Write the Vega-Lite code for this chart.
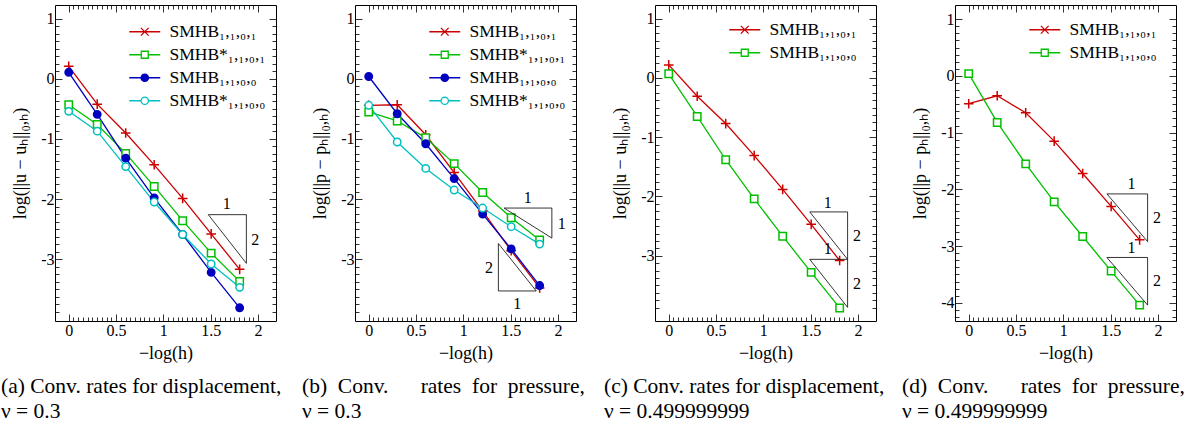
{
  "$schema": "https://vega.github.io/schema/vega-lite/v6.json",
  "padding": {"left": 0, "top": 4, "right": 0, "bottom": 0},
  "config": {
    "font": "Liberation Serif",
    "view": {"stroke": "black", "strokeWidth": 1},
    "axis": {"grid": false, "domain": false, "tickColor": "black", "labelColor": "black", "titleColor": "black", "labelFont": "Liberation Serif", "labelFontSize": 16, "titleFont": "Liberation Serif", "titleFontSize": 18, "titleFontWeight": "normal", "tickWidth": 0.8},
    "legend": {"labelFont": "Liberation Serif", "labelFontSize": 17.5, "labelColor": "black", "labelLimit": 0, "padding": 0, "symbolSize": 240, "symbolStrokeWidth": 1.3, "labelOffset": 16, "rowPadding": 4},
    "title": {"font": "Liberation Serif", "fontSize": 21.5, "fontWeight": "normal", "color": "black", "lineHeight": 25},
    "text": {"font": "Liberation Serif"}
  },
  "datasets": {
    "a": [
      {"x": 0, "y": 0.21, "s": "SMHB₁,₁,₀,₁"}, {"x": 0.301, "y": -0.42, "s": "SMHB₁,₁,₀,₁"}, {"x": 0.602, "y": -0.9, "s": "SMHB₁,₁,₀,₁"}, {"x": 0.903, "y": -1.43, "s": "SMHB₁,₁,₀,₁"}, {"x": 1.204, "y": -1.99, "s": "SMHB₁,₁,₀,₁"}, {"x": 1.505, "y": -2.58, "s": "SMHB₁,₁,₀,₁"}, {"x": 1.806, "y": -3.17, "s": "SMHB₁,₁,₀,₁"},
      {"x": 0, "y": -0.43, "s": "SMHB*₁,₁,₀,₁"}, {"x": 0.301, "y": -0.76, "s": "SMHB*₁,₁,₀,₁"}, {"x": 0.602, "y": -1.24, "s": "SMHB*₁,₁,₀,₁"}, {"x": 0.903, "y": -1.79, "s": "SMHB*₁,₁,₀,₁"}, {"x": 1.204, "y": -2.36, "s": "SMHB*₁,₁,₀,₁"}, {"x": 1.505, "y": -2.9, "s": "SMHB*₁,₁,₀,₁"}, {"x": 1.806, "y": -3.37, "s": "SMHB*₁,₁,₀,₁"},
      {"x": 0, "y": 0.11, "s": "SMHB₁,₁,₀,₀"}, {"x": 0.301, "y": -0.59, "s": "SMHB₁,₁,₀,₀"}, {"x": 0.602, "y": -1.32, "s": "SMHB₁,₁,₀,₀"}, {"x": 0.903, "y": -1.98, "s": "SMHB₁,₁,₀,₀"}, {"x": 1.204, "y": -2.59, "s": "SMHB₁,₁,₀,₀"}, {"x": 1.505, "y": -3.22, "s": "SMHB₁,₁,₀,₀"}, {"x": 1.806, "y": -3.81, "s": "SMHB₁,₁,₀,₀"},
      {"x": 0, "y": -0.54, "s": "SMHB*₁,₁,₀,₀"}, {"x": 0.301, "y": -0.87, "s": "SMHB*₁,₁,₀,₀"}, {"x": 0.602, "y": -1.46, "s": "SMHB*₁,₁,₀,₀"}, {"x": 0.903, "y": -2.05, "s": "SMHB*₁,₁,₀,₀"}, {"x": 1.204, "y": -2.59, "s": "SMHB*₁,₁,₀,₀"}, {"x": 1.505, "y": -3.08, "s": "SMHB*₁,₁,₀,₀"}, {"x": 1.806, "y": -3.47, "s": "SMHB*₁,₁,₀,₀"}
    ],
    "b": [
      {"x": 0, "y": -0.44, "s": "SMHB₁,₁,₀,₁"}, {"x": 0.301, "y": -0.43, "s": "SMHB₁,₁,₀,₁"}, {"x": 0.602, "y": -0.93, "s": "SMHB₁,₁,₀,₁"}, {"x": 0.903, "y": -1.56, "s": "SMHB₁,₁,₀,₁"}, {"x": 1.204, "y": -2.2, "s": "SMHB₁,₁,₀,₁"}, {"x": 1.505, "y": -2.86, "s": "SMHB₁,₁,₀,₁"}, {"x": 1.806, "y": -3.48, "s": "SMHB₁,₁,₀,₁"},
      {"x": 0, "y": -0.55, "s": "SMHB*₁,₁,₀,₁"}, {"x": 0.301, "y": -0.7, "s": "SMHB*₁,₁,₀,₁"}, {"x": 0.602, "y": -0.98, "s": "SMHB*₁,₁,₀,₁"}, {"x": 0.903, "y": -1.41, "s": "SMHB*₁,₁,₀,₁"}, {"x": 1.204, "y": -1.89, "s": "SMHB*₁,₁,₀,₁"}, {"x": 1.505, "y": -2.31, "s": "SMHB*₁,₁,₀,₁"}, {"x": 1.806, "y": -2.68, "s": "SMHB*₁,₁,₀,₁"},
      {"x": 0, "y": 0.04, "s": "SMHB₁,₁,₀,₀"}, {"x": 0.301, "y": -0.58, "s": "SMHB₁,₁,₀,₀"}, {"x": 0.602, "y": -1.08, "s": "SMHB₁,₁,₀,₀"}, {"x": 0.903, "y": -1.66, "s": "SMHB₁,₁,₀,₀"}, {"x": 1.204, "y": -2.25, "s": "SMHB₁,₁,₀,₀"}, {"x": 1.505, "y": -2.83, "s": "SMHB₁,₁,₀,₀"}, {"x": 1.806, "y": -3.44, "s": "SMHB₁,₁,₀,₀"},
      {"x": 0, "y": -0.44, "s": "SMHB*₁,₁,₀,₀"}, {"x": 0.301, "y": -1.05, "s": "SMHB*₁,₁,₀,₀"}, {"x": 0.602, "y": -1.49, "s": "SMHB*₁,₁,₀,₀"}, {"x": 0.903, "y": -1.85, "s": "SMHB*₁,₁,₀,₀"}, {"x": 1.204, "y": -2.15, "s": "SMHB*₁,₁,₀,₀"}, {"x": 1.505, "y": -2.46, "s": "SMHB*₁,₁,₀,₀"}, {"x": 1.806, "y": -2.75, "s": "SMHB*₁,₁,₀,₀"}
    ],
    "c": [
      {"x": 0, "y": 0.22, "s": "SMHB₁,₁,₀,₁"}, {"x": 0.301, "y": -0.31, "s": "SMHB₁,₁,₀,₁"}, {"x": 0.602, "y": -0.77, "s": "SMHB₁,₁,₀,₁"}, {"x": 0.903, "y": -1.31, "s": "SMHB₁,₁,₀,₁"}, {"x": 1.204, "y": -1.88, "s": "SMHB₁,₁,₀,₁"}, {"x": 1.505, "y": -2.47, "s": "SMHB₁,₁,₀,₁"}, {"x": 1.806, "y": -3.08, "s": "SMHB₁,₁,₀,₁"},
      {"x": 0, "y": 0.07, "s": "SMHB₁,₁,₀,₀"}, {"x": 0.301, "y": -0.65, "s": "SMHB₁,₁,₀,₀"}, {"x": 0.602, "y": -1.38, "s": "SMHB₁,₁,₀,₀"}, {"x": 0.903, "y": -2.04, "s": "SMHB₁,₁,₀,₀"}, {"x": 1.204, "y": -2.67, "s": "SMHB₁,₁,₀,₀"}, {"x": 1.505, "y": -3.28, "s": "SMHB₁,₁,₀,₀"}, {"x": 1.806, "y": -3.88, "s": "SMHB₁,₁,₀,₀"}
    ],
    "d": [
      {"x": 0, "y": -0.49, "s": "SMHB₁,₁,₀,₁"}, {"x": 0.301, "y": -0.35, "s": "SMHB₁,₁,₀,₁"}, {"x": 0.602, "y": -0.65, "s": "SMHB₁,₁,₀,₁"}, {"x": 0.903, "y": -1.15, "s": "SMHB₁,₁,₀,₁"}, {"x": 1.204, "y": -1.72, "s": "SMHB₁,₁,₀,₁"}, {"x": 1.505, "y": -2.3, "s": "SMHB₁,₁,₀,₁"}, {"x": 1.806, "y": -2.89, "s": "SMHB₁,₁,₀,₁"},
      {"x": 0, "y": 0.04, "s": "SMHB₁,₁,₀,₀"}, {"x": 0.301, "y": -0.82, "s": "SMHB₁,₁,₀,₀"}, {"x": 0.602, "y": -1.55, "s": "SMHB₁,₁,₀,₀"}, {"x": 0.903, "y": -2.22, "s": "SMHB₁,₁,₀,₀"}, {"x": 1.204, "y": -2.83, "s": "SMHB₁,₁,₀,₀"}, {"x": 1.505, "y": -3.44, "s": "SMHB₁,₁,₀,₀"}, {"x": 1.806, "y": -4.04, "s": "SMHB₁,₁,₀,₀"}
    ],
    "ta": [
      {"t": 1, "o": 1, "x": 1.475, "y": -2.26}, {"t": 1, "o": 2, "x": 1.877, "y": -2.26}, {"t": 1, "o": 3, "x": 1.877, "y": -3.07}, {"t": 1, "o": 4, "x": 1.475, "y": -2.26}
    ],
    "tb": [
      {"t": 1, "o": 1, "x": 1.43, "y": -2.15}, {"t": 1, "o": 2, "x": 1.935, "y": -2.15}, {"t": 1, "o": 3, "x": 1.935, "y": -2.65}, {"t": 1, "o": 4, "x": 1.43, "y": -2.15},
      {"t": 2, "o": 1, "x": 1.37, "y": -2.74}, {"t": 2, "o": 2, "x": 1.37, "y": -3.53}, {"t": 2, "o": 3, "x": 1.77, "y": -3.53}, {"t": 2, "o": 4, "x": 1.37, "y": -2.74}
    ],
    "tc": [
      {"t": 1, "o": 1, "x": 1.49, "y": -2.26}, {"t": 1, "o": 2, "x": 1.89, "y": -2.26}, {"t": 1, "o": 3, "x": 1.89, "y": -3.06}, {"t": 1, "o": 4, "x": 1.49, "y": -2.26},
      {"t": 2, "o": 1, "x": 1.49, "y": -3.06}, {"t": 2, "o": 2, "x": 1.89, "y": -3.06}, {"t": 2, "o": 3, "x": 1.89, "y": -3.87}, {"t": 2, "o": 4, "x": 1.49, "y": -3.06}
    ],
    "td": [
      {"t": 1, "o": 1, "x": 1.46, "y": -2.08}, {"t": 1, "o": 2, "x": 1.89, "y": -2.08}, {"t": 1, "o": 3, "x": 1.89, "y": -2.92}, {"t": 1, "o": 4, "x": 1.46, "y": -2.08},
      {"t": 2, "o": 1, "x": 1.46, "y": -3.2}, {"t": 2, "o": 2, "x": 1.89, "y": -3.2}, {"t": 2, "o": 3, "x": 1.89, "y": -4.04}, {"t": 2, "o": 4, "x": 1.46, "y": -3.2}
    ],
    "la": [{"x": 1.67, "y": -2.09, "txt": "1"}, {"x": 1.97, "y": -2.69, "txt": "2"}],
    "lb": [{"x": 1.68, "y": -1.98, "txt": "1"}, {"x": 2.04, "y": -2.41, "txt": "1"}, {"x": 1.27, "y": -3.15, "txt": "2"}, {"x": 1.57, "y": -3.74, "txt": "1"}],
    "lc": [{"x": 1.68, "y": -2.11, "txt": "1"}, {"x": 1.99, "y": -2.67, "txt": "2"}, {"x": 1.68, "y": -2.89, "txt": "1"}, {"x": 1.99, "y": -3.48, "txt": "2"}],
    "ld": [{"x": 1.72, "y": -1.91, "txt": "1"}, {"x": 1.99, "y": -2.51, "txt": "2"}, {"x": 1.72, "y": -3.04, "txt": "1"}, {"x": 1.99, "y": -3.61, "txt": "2"}]
  },
  "hconcat": [
    {
      "width": 221, "height": 316,
      "title": {"text": ["(a) Conv. rates for displacement,", "ν = 0.3"], "orient": "bottom", "anchor": "start", "frame": "group", "dx": -54, "offset": 14},
      "layer": [
        {
          "data": {"name": "a"},
          "mark": {"type": "line", "strokeWidth": 1.3},
          "encoding": {
            "x": {"field": "x", "type": "quantitative", "scale": {"domain": [-0.145, 2.19], "nice": false, "zero": false}, "axis": {"orient": "bottom", "values": [0, 0.5, 1, 1.5, 2], "tickSize": -7, "labelExpr": "'' + datum.value", "labelPadding": 8, "title": "−log(h)", "titlePadding": 6}},
            "y": {"field": "y", "type": "quantitative", "scale": {"domain": [-4.03, 1.23], "nice": false, "zero": false}, "axis": {"orient": "left", "values": [-3, -2, -1, 0, 1], "tickSize": -7, "labelExpr": "'' + datum.value", "labelPadding": 8, "title": "log(||u − uₕ||₀,ₕ)", "titlePadding": 11}},
            "color": {"field": "s", "type": "nominal", "scale": {"domain": ["SMHB₁,₁,₀,₁", "SMHB*₁,₁,₀,₁", "SMHB₁,₁,₀,₀", "SMHB*₁,₁,₀,₀"], "range": ["#cc0000", "#00c000", "#0000c0", "#00c0c0"]},
              "legend": {"title": null, "orient": "none", "legendX": 81, "legendY": 18,
                "encode": {"symbols": {"update": {
                  "shape": {"signal": "['M-2,0H2M-0.5,-0.5L0.5,0.5M-0.5,0.5L0.5,-0.5','M-2,0H-0.45M0.45,0H2M-0.45,-0.45H0.45V0.45H-0.45Z','M-2,0H2M0.48,0A0.48,0.48 0 1,1 -0.48,0A0.48,0.48 0 1,1 0.48,0Z','M-2,0H-0.48M0.48,0H2M0.48,0A0.48,0.48 0 1,1 -0.48,0A0.48,0.48 0 1,1 0.48,0Z'][indexof(['SMHB₁,₁,₀,₁','SMHB*₁,₁,₀,₁','SMHB₁,₁,₀,₀','SMHB*₁,₁,₀,₀'], datum.value)]"},
                  "fill": {"signal": "datum.value === 'SMHB₁,₁,₀,₀' ? '#0000c0' : 'transparent'"},
                  "stroke": {"signal": "['#cc0000','#00c000','#0000c0','#00c0c0'][indexof(['SMHB₁,₁,₀,₁','SMHB*₁,₁,₀,₁','SMHB₁,₁,₀,₀','SMHB*₁,₁,₀,₀'], datum.value)]"}
                }}}}}
          }
        },
        {
          "data": {"name": "a"}, "transform": [{"filter": {"field": "s", "equal": "SMHB₁,₁,₀,₁"}}],
          "mark": {"type": "point", "shape": "M-1.3,0H1.3M0,-1.3V1.3", "stroke": "#cc0000", "filled": false, "opacity": 1, "strokeWidth": 1.5, "size": 55},
          "encoding": {
            "x": {"field": "x", "type": "quantitative", "axis": {"orient": "bottom", "values": [0.05,0.1,0.15,0.2,0.25,0.3,0.35,0.4,0.45,0.55,0.6,0.65,0.7,0.75,0.8,0.85,0.9,0.95,1.05,1.1,1.15,1.2,1.25,1.3,1.35,1.4,1.45,1.55,1.6,1.65,1.7,1.75,1.8,1.85,1.9,1.95], "tickSize": -4, "labels": false, "title": null}},
            "y": {"field": "y", "type": "quantitative", "axis": {"orient": "left", "values": [-3.875,-3.75,-3.625,-3.5,-3.375,-3.25,-3.125,-2.875,-2.75,-2.625,-2.5,-2.375,-2.25,-2.125,-1.875,-1.75,-1.625,-1.5,-1.375,-1.25,-1.125,-0.875,-0.75,-0.625,-0.5,-0.375,-0.25,-0.125,0.125,0.25,0.375,0.5,0.625,0.75,0.875], "tickSize": -4, "labels": false, "title": null}}
          }
        },
        {
          "data": {"name": "a"}, "transform": [{"filter": {"field": "s", "equal": "SMHB*₁,₁,₀,₁"}}],
          "mark": {"type": "point", "shape": "square", "stroke": "#00c000", "fill": "white", "opacity": 1, "strokeWidth": 1.5, "size": 55},
          "encoding": {"x": {"field": "x", "type": "quantitative", "axis": null}, "y": {"field": "y", "type": "quantitative", "axis": null}}
        },
        {
          "data": {"name": "a"}, "transform": [{"filter": {"field": "s", "equal": "SMHB₁,₁,₀,₀"}}],
          "mark": {"type": "point", "shape": "circle", "stroke": "#0000c0", "fill": "#0000c0", "opacity": 1, "strokeWidth": 1.5, "size": 55},
          "encoding": {"x": {"field": "x", "type": "quantitative", "axis": null}, "y": {"field": "y", "type": "quantitative", "axis": null}}
        },
        {
          "data": {"name": "a"}, "transform": [{"filter": {"field": "s", "equal": "SMHB*₁,₁,₀,₀"}}],
          "mark": {"type": "point", "shape": "circle", "stroke": "#00c0c0", "fill": "white", "opacity": 1, "strokeWidth": 1.5, "size": 55},
          "encoding": {"x": {"field": "x", "type": "quantitative", "axis": null}, "y": {"field": "y", "type": "quantitative", "axis": null}}
        },
        {
          "data": {"name": "ta"},
          "mark": {"type": "line", "color": "black", "strokeWidth": 0.8},
          "encoding": {
            "x": {"field": "x", "type": "quantitative", "axis": {"orient": "top", "values": [0, 0.5, 1, 1.5, 2], "tickSize": -7, "labels": false, "title": null}},
            "y": {"field": "y", "type": "quantitative", "axis": {"orient": "right", "values": [-3, -2, -1, 0, 1], "tickSize": -7, "labels": false, "title": null}},
            "detail": {"field": "t", "type": "nominal"},
            "order": {"field": "o", "type": "quantitative"}
          }
        },
        {
          "data": {"name": "la"},
          "mark": {"type": "text", "fontSize": 16, "color": "black"},
          "encoding": {
            "x": {"field": "x", "type": "quantitative", "axis": {"orient": "top", "values": [0.05,0.1,0.15,0.2,0.25,0.3,0.35,0.4,0.45,0.55,0.6,0.65,0.7,0.75,0.8,0.85,0.9,0.95,1.05,1.1,1.15,1.2,1.25,1.3,1.35,1.4,1.45,1.55,1.6,1.65,1.7,1.75,1.8,1.85,1.9,1.95], "tickSize": -4, "labels": false, "title": null}},
            "y": {"field": "y", "type": "quantitative", "axis": {"orient": "right", "values": [-3.875,-3.75,-3.625,-3.5,-3.375,-3.25,-3.125,-2.875,-2.75,-2.625,-2.5,-2.375,-2.25,-2.125,-1.875,-1.75,-1.625,-1.5,-1.375,-1.25,-1.125,-0.875,-0.75,-0.625,-0.5,-0.375,-0.25,-0.125,0.125,0.25,0.375,0.5,0.625,0.75,0.875], "tickSize": -4, "labels": false, "title": null}},
            "text": {"field": "txt", "type": "nominal"}
          }
        }
      ],
      "resolve": {"axis": {"x": "independent", "y": "independent"}}
    },
    {
      "width": 221, "height": 316,
      "title": {"text": ["(b)\u00a0\u00a0Conv.\u00a0\u00a0\u00a0\u00a0\u00a0\u00a0rates\u00a0\u00a0for\u00a0\u00a0pressure,", "ν = 0.3"], "orient": "bottom", "anchor": "start", "frame": "group", "dx": -53, "offset": 14},
      "layer": [
        {
          "data": {"name": "b"},
          "mark": {"type": "line", "strokeWidth": 1.3},
          "encoding": {
            "x": {"field": "x", "type": "quantitative", "scale": {"domain": [-0.145, 2.19], "nice": false, "zero": false}, "axis": {"orient": "bottom", "values": [0, 0.5, 1, 1.5, 2], "tickSize": -7, "labelExpr": "'' + datum.value", "labelPadding": 8, "title": "−log(h)", "titlePadding": 6}},
            "y": {"field": "y", "type": "quantitative", "scale": {"domain": [-4.03, 1.23], "nice": false, "zero": false}, "axis": {"orient": "left", "values": [-3, -2, -1, 0, 1], "tickSize": -7, "labelExpr": "'' + datum.value", "labelPadding": 8, "title": "log(||p − pₕ||₀,ₕ)", "titlePadding": 11}},
            "color": {"field": "s", "type": "nominal", "scale": {"domain": ["SMHB₁,₁,₀,₁", "SMHB*₁,₁,₀,₁", "SMHB₁,₁,₀,₀", "SMHB*₁,₁,₀,₀"], "range": ["#cc0000", "#00c000", "#0000c0", "#00c0c0"]},
              "legend": {"title": null, "orient": "none", "legendX": 81, "legendY": 18,
                "encode": {"symbols": {"update": {
                  "shape": {"signal": "['M-2,0H2M-0.5,-0.5L0.5,0.5M-0.5,0.5L0.5,-0.5','M-2,0H-0.45M0.45,0H2M-0.45,-0.45H0.45V0.45H-0.45Z','M-2,0H2M0.48,0A0.48,0.48 0 1,1 -0.48,0A0.48,0.48 0 1,1 0.48,0Z','M-2,0H-0.48M0.48,0H2M0.48,0A0.48,0.48 0 1,1 -0.48,0A0.48,0.48 0 1,1 0.48,0Z'][indexof(['SMHB₁,₁,₀,₁','SMHB*₁,₁,₀,₁','SMHB₁,₁,₀,₀','SMHB*₁,₁,₀,₀'], datum.value)]"},
                  "fill": {"signal": "datum.value === 'SMHB₁,₁,₀,₀' ? '#0000c0' : 'transparent'"},
                  "stroke": {"signal": "['#cc0000','#00c000','#0000c0','#00c0c0'][indexof(['SMHB₁,₁,₀,₁','SMHB*₁,₁,₀,₁','SMHB₁,₁,₀,₀','SMHB*₁,₁,₀,₀'], datum.value)]"}
                }}}}}
          }
        },
        {
          "data": {"name": "b"}, "transform": [{"filter": {"field": "s", "equal": "SMHB₁,₁,₀,₁"}}],
          "mark": {"type": "point", "shape": "M-1.3,0H1.3M0,-1.3V1.3", "stroke": "#cc0000", "filled": false, "opacity": 1, "strokeWidth": 1.5, "size": 55},
          "encoding": {
            "x": {"field": "x", "type": "quantitative", "axis": {"orient": "bottom", "values": [0.05,0.1,0.15,0.2,0.25,0.3,0.35,0.4,0.45,0.55,0.6,0.65,0.7,0.75,0.8,0.85,0.9,0.95,1.05,1.1,1.15,1.2,1.25,1.3,1.35,1.4,1.45,1.55,1.6,1.65,1.7,1.75,1.8,1.85,1.9,1.95], "tickSize": -4, "labels": false, "title": null}},
            "y": {"field": "y", "type": "quantitative", "axis": {"orient": "left", "values": [-3.875,-3.75,-3.625,-3.5,-3.375,-3.25,-3.125,-2.875,-2.75,-2.625,-2.5,-2.375,-2.25,-2.125,-1.875,-1.75,-1.625,-1.5,-1.375,-1.25,-1.125,-0.875,-0.75,-0.625,-0.5,-0.375,-0.25,-0.125,0.125,0.25,0.375,0.5,0.625,0.75,0.875], "tickSize": -4, "labels": false, "title": null}}
          }
        },
        {
          "data": {"name": "b"}, "transform": [{"filter": {"field": "s", "equal": "SMHB*₁,₁,₀,₁"}}],
          "mark": {"type": "point", "shape": "square", "stroke": "#00c000", "fill": "white", "opacity": 1, "strokeWidth": 1.5, "size": 55},
          "encoding": {"x": {"field": "x", "type": "quantitative", "axis": null}, "y": {"field": "y", "type": "quantitative", "axis": null}}
        },
        {
          "data": {"name": "b"}, "transform": [{"filter": {"field": "s", "equal": "SMHB₁,₁,₀,₀"}}],
          "mark": {"type": "point", "shape": "circle", "stroke": "#0000c0", "fill": "#0000c0", "opacity": 1, "strokeWidth": 1.5, "size": 55},
          "encoding": {"x": {"field": "x", "type": "quantitative", "axis": null}, "y": {"field": "y", "type": "quantitative", "axis": null}}
        },
        {
          "data": {"name": "b"}, "transform": [{"filter": {"field": "s", "equal": "SMHB*₁,₁,₀,₀"}}],
          "mark": {"type": "point", "shape": "circle", "stroke": "#00c0c0", "fill": "white", "opacity": 1, "strokeWidth": 1.5, "size": 55},
          "encoding": {"x": {"field": "x", "type": "quantitative", "axis": null}, "y": {"field": "y", "type": "quantitative", "axis": null}}
        },
        {
          "data": {"name": "tb"},
          "mark": {"type": "line", "color": "black", "strokeWidth": 0.8},
          "encoding": {
            "x": {"field": "x", "type": "quantitative", "axis": {"orient": "top", "values": [0, 0.5, 1, 1.5, 2], "tickSize": -7, "labels": false, "title": null}},
            "y": {"field": "y", "type": "quantitative", "axis": {"orient": "right", "values": [-3, -2, -1, 0, 1], "tickSize": -7, "labels": false, "title": null}},
            "detail": {"field": "t", "type": "nominal"},
            "order": {"field": "o", "type": "quantitative"}
          }
        },
        {
          "data": {"name": "lb"},
          "mark": {"type": "text", "fontSize": 16, "color": "black"},
          "encoding": {
            "x": {"field": "x", "type": "quantitative", "axis": {"orient": "top", "values": [0.05,0.1,0.15,0.2,0.25,0.3,0.35,0.4,0.45,0.55,0.6,0.65,0.7,0.75,0.8,0.85,0.9,0.95,1.05,1.1,1.15,1.2,1.25,1.3,1.35,1.4,1.45,1.55,1.6,1.65,1.7,1.75,1.8,1.85,1.9,1.95], "tickSize": -4, "labels": false, "title": null}},
            "y": {"field": "y", "type": "quantitative", "axis": {"orient": "right", "values": [-3.875,-3.75,-3.625,-3.5,-3.375,-3.25,-3.125,-2.875,-2.75,-2.625,-2.5,-2.375,-2.25,-2.125,-1.875,-1.75,-1.625,-1.5,-1.375,-1.25,-1.125,-0.875,-0.75,-0.625,-0.5,-0.375,-0.25,-0.125,0.125,0.25,0.375,0.5,0.625,0.75,0.875], "tickSize": -4, "labels": false, "title": null}},
            "text": {"field": "txt", "type": "nominal"}
          }
        }
      ],
      "resolve": {"axis": {"x": "independent", "y": "independent"}}
    },
    {
      "width": 221, "height": 316,
      "title": {"text": ["(c) Conv. rates for displacement,", "ν = 0.499999999"], "orient": "bottom", "anchor": "start", "frame": "group", "dx": -51, "offset": 14},
      "layer": [
        {
          "data": {"name": "c"},
          "mark": {"type": "line", "strokeWidth": 1.3},
          "encoding": {
            "x": {"field": "x", "type": "quantitative", "scale": {"domain": [-0.145, 2.19], "nice": false, "zero": false}, "axis": {"orient": "bottom", "values": [0, 0.5, 1, 1.5, 2], "tickSize": -7, "labelExpr": "'' + datum.value", "labelPadding": 8, "title": "−log(h)", "titlePadding": 6}},
            "y": {"field": "y", "type": "quantitative", "scale": {"domain": [-4.1, 1.23], "nice": false, "zero": false}, "axis": {"orient": "left", "values": [-3, -2, -1, 0, 1], "tickSize": -7, "labelExpr": "'' + datum.value", "labelPadding": 8, "title": "log(||u − uₕ||₀,ₕ)", "titlePadding": 11}},
            "color": {"field": "s", "type": "nominal", "scale": {"domain": ["SMHB₁,₁,₀,₁", "SMHB₁,₁,₀,₀"], "range": ["#cc0000", "#00c000"]},
              "legend": {"title": null, "orient": "none", "legendX": 81, "legendY": 16,
                "encode": {"symbols": {"update": {
                  "shape": {"signal": "datum.value === 'SMHB₁,₁,₀,₁' ? 'M-2,0H2M-0.5,-0.5L0.5,0.5M-0.5,0.5L0.5,-0.5' : 'M-2,0H-0.45M0.45,0H2M-0.45,-0.45H0.45V0.45H-0.45Z'"},
                  "fill": {"value": "transparent"},
                  "stroke": {"signal": "datum.value === 'SMHB₁,₁,₀,₁' ? '#cc0000' : '#00c000'"}
                }}}}}
          }
        },
        {
          "data": {"name": "c"}, "transform": [{"filter": {"field": "s", "equal": "SMHB₁,₁,₀,₁"}}],
          "mark": {"type": "point", "shape": "M-1.3,0H1.3M0,-1.3V1.3", "stroke": "#cc0000", "filled": false, "opacity": 1, "strokeWidth": 1.5, "size": 55},
          "encoding": {
            "x": {"field": "x", "type": "quantitative", "axis": {"orient": "bottom", "values": [0.05,0.1,0.15,0.2,0.25,0.3,0.35,0.4,0.45,0.55,0.6,0.65,0.7,0.75,0.8,0.85,0.9,0.95,1.05,1.1,1.15,1.2,1.25,1.3,1.35,1.4,1.45,1.55,1.6,1.65,1.7,1.75,1.8,1.85,1.9,1.95], "tickSize": -4, "labels": false, "title": null}},
            "y": {"field": "y", "type": "quantitative", "axis": {"orient": "left", "values": [-3.875,-3.75,-3.625,-3.5,-3.375,-3.25,-3.125,-2.875,-2.75,-2.625,-2.5,-2.375,-2.25,-2.125,-1.875,-1.75,-1.625,-1.5,-1.375,-1.25,-1.125,-0.875,-0.75,-0.625,-0.5,-0.375,-0.25,-0.125,0.125,0.25,0.375,0.5,0.625,0.75,0.875], "tickSize": -4, "labels": false, "title": null}}
          }
        },
        {
          "data": {"name": "c"}, "transform": [{"filter": {"field": "s", "equal": "SMHB₁,₁,₀,₀"}}],
          "mark": {"type": "point", "shape": "square", "stroke": "#00c000", "fill": "white", "opacity": 1, "strokeWidth": 1.5, "size": 55},
          "encoding": {"x": {"field": "x", "type": "quantitative", "axis": null}, "y": {"field": "y", "type": "quantitative", "axis": null}}
        },
        {
          "data": {"name": "tc"},
          "mark": {"type": "line", "color": "black", "strokeWidth": 0.8},
          "encoding": {
            "x": {"field": "x", "type": "quantitative", "axis": {"orient": "top", "values": [0, 0.5, 1, 1.5, 2], "tickSize": -7, "labels": false, "title": null}},
            "y": {"field": "y", "type": "quantitative", "axis": {"orient": "right", "values": [-3, -2, -1, 0, 1], "tickSize": -7, "labels": false, "title": null}},
            "detail": {"field": "t", "type": "nominal"},
            "order": {"field": "o", "type": "quantitative"}
          }
        },
        {
          "data": {"name": "lc"},
          "mark": {"type": "text", "fontSize": 16, "color": "black"},
          "encoding": {
            "x": {"field": "x", "type": "quantitative", "axis": {"orient": "top", "values": [0.05,0.1,0.15,0.2,0.25,0.3,0.35,0.4,0.45,0.55,0.6,0.65,0.7,0.75,0.8,0.85,0.9,0.95,1.05,1.1,1.15,1.2,1.25,1.3,1.35,1.4,1.45,1.55,1.6,1.65,1.7,1.75,1.8,1.85,1.9,1.95], "tickSize": -4, "labels": false, "title": null}},
            "y": {"field": "y", "type": "quantitative", "axis": {"orient": "right", "values": [-3.875,-3.75,-3.625,-3.5,-3.375,-3.25,-3.125,-2.875,-2.75,-2.625,-2.5,-2.375,-2.25,-2.125,-1.875,-1.75,-1.625,-1.5,-1.375,-1.25,-1.125,-0.875,-0.75,-0.625,-0.5,-0.375,-0.25,-0.125,0.125,0.25,0.375,0.5,0.625,0.75,0.875], "tickSize": -4, "labels": false, "title": null}},
            "text": {"field": "txt", "type": "nominal"}
          }
        }
      ],
      "resolve": {"axis": {"x": "independent", "y": "independent"}}
    },
    {
      "width": 221, "height": 316,
      "title": {"text": ["(d)\u00a0\u00a0Conv.\u00a0\u00a0\u00a0\u00a0\u00a0\u00a0rates\u00a0\u00a0for\u00a0\u00a0pressure,", "ν = 0.499999999"], "orient": "bottom", "anchor": "start", "frame": "group", "dx": -53, "offset": 14},
      "layer": [
        {
          "data": {"name": "d"},
          "mark": {"type": "line", "strokeWidth": 1.3},
          "encoding": {
            "x": {"field": "x", "type": "quantitative", "scale": {"domain": [-0.145, 2.19], "nice": false, "zero": false}, "axis": {"orient": "bottom", "values": [0, 0.5, 1, 1.5, 2], "tickSize": -7, "labelExpr": "'' + datum.value", "labelPadding": 8, "title": "−log(h)", "titlePadding": 6}},
            "y": {"field": "y", "type": "quantitative", "scale": {"domain": [-4.32, 1.25], "nice": false, "zero": false}, "axis": {"orient": "left", "values": [-4, -3, -2, -1, 0, 1], "tickSize": -7, "labelExpr": "'' + datum.value", "labelPadding": 8, "title": "log(||p − pₕ||₀,ₕ)", "titlePadding": 11}},
            "color": {"field": "s", "type": "nominal", "scale": {"domain": ["SMHB₁,₁,₀,₁", "SMHB₁,₁,₀,₀"], "range": ["#cc0000", "#00c000"]},
              "legend": {"title": null, "orient": "none", "legendX": 81, "legendY": 16,
                "encode": {"symbols": {"update": {
                  "shape": {"signal": "datum.value === 'SMHB₁,₁,₀,₁' ? 'M-2,0H2M-0.5,-0.5L0.5,0.5M-0.5,0.5L0.5,-0.5' : 'M-2,0H-0.45M0.45,0H2M-0.45,-0.45H0.45V0.45H-0.45Z'"},
                  "fill": {"value": "transparent"},
                  "stroke": {"signal": "datum.value === 'SMHB₁,₁,₀,₁' ? '#cc0000' : '#00c000'"}
                }}}}}
          }
        },
        {
          "data": {"name": "d"}, "transform": [{"filter": {"field": "s", "equal": "SMHB₁,₁,₀,₁"}}],
          "mark": {"type": "point", "shape": "M-1.3,0H1.3M0,-1.3V1.3", "stroke": "#cc0000", "filled": false, "opacity": 1, "strokeWidth": 1.5, "size": 55},
          "encoding": {
            "x": {"field": "x", "type": "quantitative", "axis": {"orient": "bottom", "values": [0.05,0.1,0.15,0.2,0.25,0.3,0.35,0.4,0.45,0.55,0.6,0.65,0.7,0.75,0.8,0.85,0.9,0.95,1.05,1.1,1.15,1.2,1.25,1.3,1.35,1.4,1.45,1.55,1.6,1.65,1.7,1.75,1.8,1.85,1.9,1.95], "tickSize": -4, "labels": false, "title": null}},
            "y": {"field": "y", "type": "quantitative", "axis": {"orient": "left", "values": [-4.25,-4.125,-3.875,-3.75,-3.625,-3.5,-3.375,-3.25,-3.125,-2.875,-2.75,-2.625,-2.5,-2.375,-2.25,-2.125,-1.875,-1.75,-1.625,-1.5,-1.375,-1.25,-1.125,-0.875,-0.75,-0.625,-0.5,-0.375,-0.25,-0.125,0.125,0.25,0.375,0.5,0.625,0.75,0.875], "tickSize": -4, "labels": false, "title": null}}
          }
        },
        {
          "data": {"name": "d"}, "transform": [{"filter": {"field": "s", "equal": "SMHB₁,₁,₀,₀"}}],
          "mark": {"type": "point", "shape": "square", "stroke": "#00c000", "fill": "white", "opacity": 1, "strokeWidth": 1.5, "size": 55},
          "encoding": {"x": {"field": "x", "type": "quantitative", "axis": null}, "y": {"field": "y", "type": "quantitative", "axis": null}}
        },
        {
          "data": {"name": "td"},
          "mark": {"type": "line", "color": "black", "strokeWidth": 0.8},
          "encoding": {
            "x": {"field": "x", "type": "quantitative", "axis": {"orient": "top", "values": [0, 0.5, 1, 1.5, 2], "tickSize": -7, "labels": false, "title": null}},
            "y": {"field": "y", "type": "quantitative", "axis": {"orient": "right", "values": [-4, -3, -2, -1, 0, 1], "tickSize": -7, "labels": false, "title": null}},
            "detail": {"field": "t", "type": "nominal"},
            "order": {"field": "o", "type": "quantitative"}
          }
        },
        {
          "data": {"name": "ld"},
          "mark": {"type": "text", "fontSize": 16, "color": "black"},
          "encoding": {
            "x": {"field": "x", "type": "quantitative", "axis": {"orient": "top", "values": [0.05,0.1,0.15,0.2,0.25,0.3,0.35,0.4,0.45,0.55,0.6,0.65,0.7,0.75,0.8,0.85,0.9,0.95,1.05,1.1,1.15,1.2,1.25,1.3,1.35,1.4,1.45,1.55,1.6,1.65,1.7,1.75,1.8,1.85,1.9,1.95], "tickSize": -4, "labels": false, "title": null}},
            "y": {"field": "y", "type": "quantitative", "axis": {"orient": "right", "values": [-4.25,-4.125,-3.875,-3.75,-3.625,-3.5,-3.375,-3.25,-3.125,-2.875,-2.75,-2.625,-2.5,-2.375,-2.25,-2.125,-1.875,-1.75,-1.625,-1.5,-1.375,-1.25,-1.125,-0.875,-0.75,-0.625,-0.5,-0.375,-0.25,-0.125,0.125,0.25,0.375,0.5,0.625,0.75,0.875], "tickSize": -4, "labels": false, "title": null}},
            "text": {"field": "txt", "type": "nominal"}
          }
        }
      ],
      "resolve": {"axis": {"x": "independent", "y": "independent"}}
    }
  ],
  "spacing": 79,
  "bounds": "flush",
  "resolve": {"scale": {"color": "independent", "x": "independent", "y": "independent"}, "legend": {"color": "independent"}}
}
